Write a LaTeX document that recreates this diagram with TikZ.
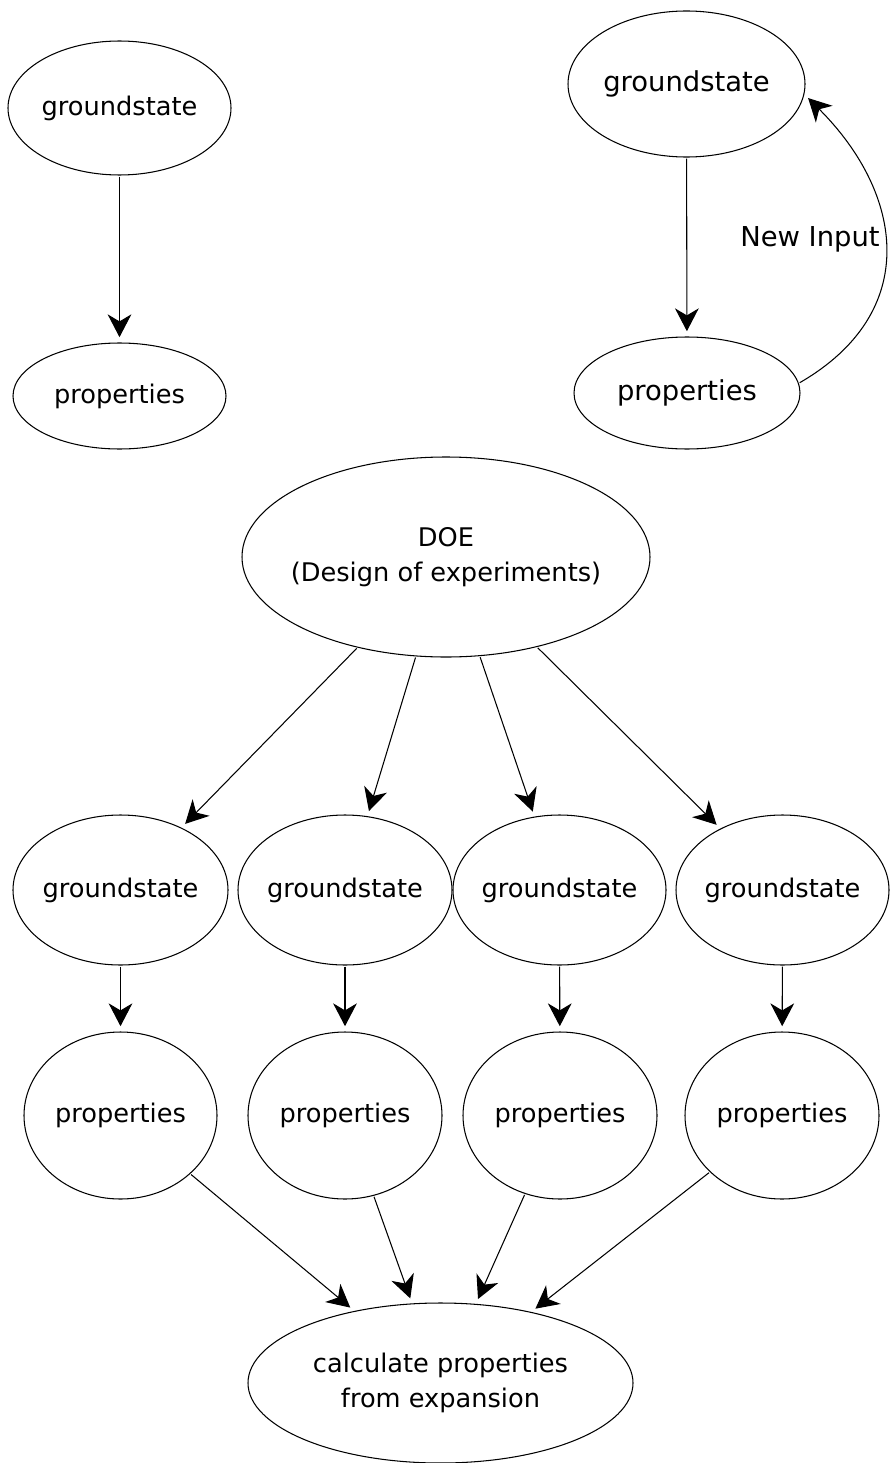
\documentclass[tikz,border=0pt]{standalone}
\usepackage{fontspec}
\setmainfont{DejaVu Sans}
\usetikzlibrary{shapes.geometric,arrows.meta}
\tikzset{
  txt/.style={font=\fontsize{14.6}{20}\selectfont, align=center},
  bigtxt/.style={font=\fontsize{15.6}{20}\selectfont, align=center},
  every label/.style={txt},
  blob/.style 2 args={ellipse, draw, line width=0.6pt, inner sep=0pt,
    minimum width=#1*0.02cm, minimum height=#2*0.02cm},
  flow/.style={-{Stealth[length=13pt,width=13.5pt,inset=4pt]},
    line width=0.6pt, shorten >=3pt, shorten <=0.6pt}
}
\begin{document}
\begin{tikzpicture}[x=0.02cm, y=-0.02cm]
  \useasboundingbox (0,0) rectangle (889,1463);
  % single run
  \node[blob={223}{134}, label=center:groundstate] (gsL) at (119.5,108) {};
  \node[blob={213}{106}, label=center:properties] (prL) at (119.5,396) {};
  \draw[flow] (gsL) -- (prL);
  % self-consistent loop
  \node[blob={237}{146}, label={[bigtxt]center:groundstate}] (gsR) at (686.5,84) {};
  \node[blob={226}{112}, label={[bigtxt]center:properties}] (prR) at (687,393) {};
  \node[bigtxt] (newin) at (810,239) {New Input};
  \draw[flow] (gsR) -- (prR);
  \draw[flow] (prR.5) to[out=30, in=-45, looseness=1.25] (gsR.-5);
  % design of experiments
  \node[blob={408}{200}, label={center:DOE\\(Design of experiments)}] (doe) at (446,557) {};
  \node[blob={215}{150}, label=center:groundstate] (gs1) at (120.5,890) {};
  \node[blob={214}{150}, label=center:groundstate] (gs2) at (345,890) {};
  \node[blob={213}{150}, label=center:groundstate] (gs3) at (559.5,890) {};
  \node[blob={213}{150}, label=center:groundstate] (gs4) at (782.5,890) {};
  \node[blob={193}{167}, label=center:properties] (pr1) at (120.5,1115.5) {};
  \node[blob={194}{167}, label=center:properties] (pr2) at (345,1115.5) {};
  \node[blob={194}{167}, label=center:properties] (pr3) at (560,1115.5) {};
  \node[blob={194}{167}, label=center:properties] (pr4) at (782,1115.5) {};
  \node[blob={385}{160}, label={center:calculate properties\\from expansion}] (calc) at (440.5,1383) {};
  \draw[flow] (doe) -- (gs1);
  \draw[flow] (doe) -- (gs2);
  \draw[flow] (doe) -- (gs3);
  \draw[flow] (doe) -- (gs4);
  \draw[flow] (gs1) -- (pr1);
  \draw[flow] (gs2) -- (pr2);
  \draw[flow] (gs3) -- (pr3);
  \draw[flow] (gs4) -- (pr4);
  \draw[flow] (pr1) -- (calc);
  \draw[flow] (pr2) -- (calc);
  \draw[flow] (pr3) -- (calc);
  \draw[flow] (pr4) -- (calc);
\end{tikzpicture}
\end{document}
